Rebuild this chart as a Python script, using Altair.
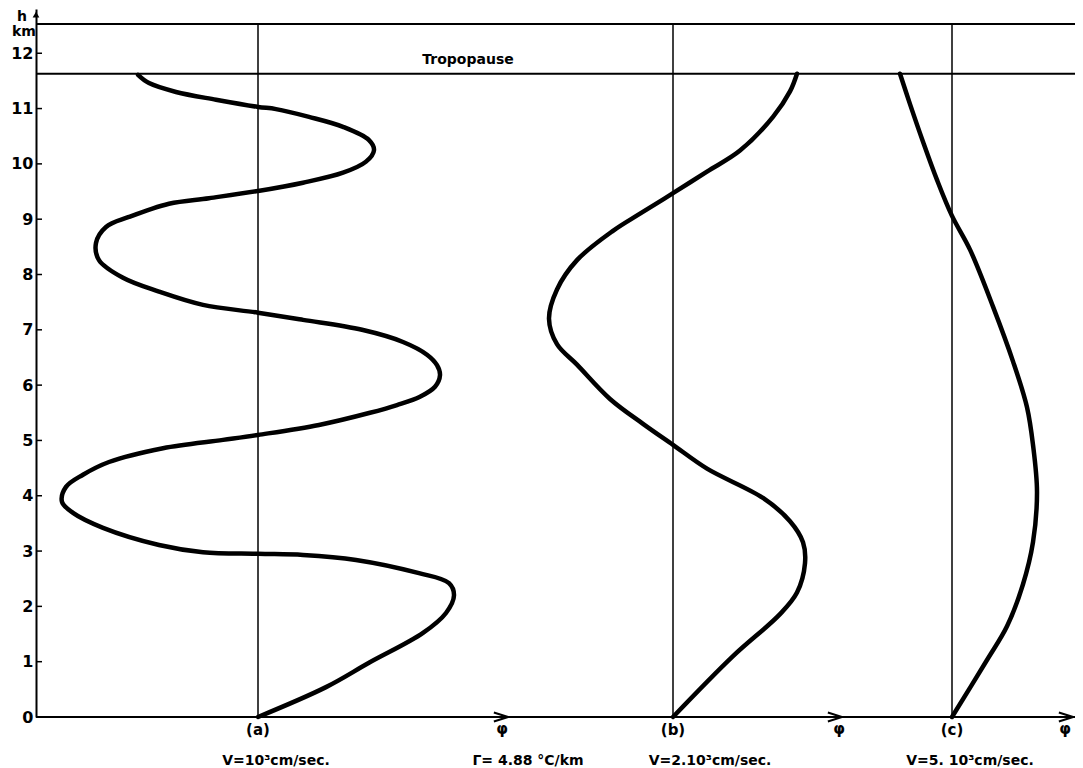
import altair as alt
import pandas as pd

# ---- data (h in km, phi = horizontal deviation from each baseline) ----
h_a = [0, 0.54, 0.98, 1.52, 1.88, 2.2, 2.42, 2.6, 2.84, 2.93, 2.95, 2.98, 3.11, 3.42, 3.69, 3.89,
       4.16, 4.38, 4.61, 4.86, 5.01, 5.10, 5.28, 5.50, 5.64, 5.79, 5.97, 6.18, 6.36, 6.55, 6.78,
       7.00, 7.18, 7.31, 7.45, 7.69, 7.94, 8.26, 8.57, 8.86, 9.04, 9.28, 9.38, 9.51, 9.66,
       9.84, 10.04, 10.25, 10.43, 10.67, 10.85, 10.99, 11.03, 11.16, 11.30, 11.46, 11.61]
phi_a = [0, 68, 111, 165, 188, 196, 191, 161, 98, 45, 0, -55, -99, -155, -185, -196,
         -192, -175, -149, -95, -35, 0, 61, 112, 139, 162, 177, 182, 179, 169, 145,
         104, 45, 0, -55, -99, -135, -159, -162, -152, -129, -89, -49, 0, 45,
         85, 108, 116, 111, 85, 51, 18, 0, -42, -82, -109, -120]

h_b = [0, 1.10, 1.86, 2.25, 2.78, 3.16, 3.54, 3.96, 4.49, 4.92, 5.30, 5.75, 6.37, 6.74, 7.20,
       7.73, 8.26, 8.79, 9.10, 9.47, 9.86, 10.24, 10.85, 11.31, 11.63]
phi_b = [0, 60, 107, 124, 132, 130, 117, 90, 34, 0, -30, -63, -96, -116, -124,
         -116, -96, -60, -33, 0, 34, 67, 100, 117, 124]

h_c = [0, 1.03, 1.64, 2.40, 3.16, 4.07, 4.92, 5.60, 6.43, 7.42, 8.45, 9.06, 9.71, 10.40, 11.08, 11.63]
phi_c = [0, 35, 55, 71, 81, 85, 81, 75, 61, 41, 18, 0, -15, -29, -42, -52]

y_ticks = list(range(0, 13))
tropopause_h = 11.63
top_h = 12.53

case_labels = ["(a)", "(b)", "(c)"]
velocity_labels = ["V=10³cm/sec.", "V=2.10³cm/sec.", "V=5. 10³cm/sec."]
gradient_label = "Γ= 4.88 °C/km"

# ---- layout constants ----
W, H = 1039, 708
YMAX = 12.8
base = {"a": 222, "b": 637, "c": 916}
arrow_x = [472, 806, 1037]
phi_label_x = [466, 803, 1029]

FONT = "DejaVu Sans"
yscale = alt.Scale(domain=[0, YMAX], nice=False, zero=False)
xscale = alt.Scale(domain=[0, W], nice=False, zero=False)
yaxis = alt.Axis(values=y_ticks, ticks=False, grid=False, title=None, domainColor="black",
                 domainWidth=2, labelFont=FONT, labelFontWeight="bold", labelFontSize=16,
                 labelColor="black", labelPadding=3, labelFlush=False)


def X(f):
    return alt.X(f, type="quantitative", scale=xscale, axis=None)


def Y(f):
    return alt.Y(f, type="quantitative", scale=yscale, axis=yaxis)


rows = []
for name, hs, ps in (("a", h_a, phi_a), ("b", h_b, phi_b), ("c", h_c, phi_c)):
    for i, (hh, pp) in enumerate(zip(hs, ps)):
        rows.append({"curve": name, "h": hh, "x": base[name] + pp, "o": i})
curves_df = pd.DataFrame(rows)

curves = alt.Chart(curves_df).mark_line(color="black", strokeWidth=4.5, interpolate="catmull-rom",
                                         strokeCap="round").encode(
    x=X("x"), y=Y("h"), detail="curve:N", order="o:Q")

vlines_df = pd.DataFrame({"x": list(base.values()), "y0": [0] * 3, "y1": [top_h] * 3})
vlines = alt.Chart(vlines_df).mark_rule(color="black", strokeWidth=1.5).encode(
    x=X("x"), y=Y("y0"), y2="y1")

bottom = alt.Chart(pd.DataFrame({"h": [0]})).mark_rule(color="black", strokeWidth=2).encode(
    y=Y("h"), x=alt.value(0), x2=alt.value(W))
trop = alt.Chart(pd.DataFrame({"h": [tropopause_h]})).mark_rule(color="black", strokeWidth=2).encode(
    y=Y("h"), x=alt.value(0), x2=alt.value(W + 8))
top = alt.Chart(pd.DataFrame({"h": [top_h]})).mark_rule(color="black", strokeWidth=2).encode(
    y=Y("h"), x=alt.value(0), x2=alt.value(W + 8))

ticks = alt.Chart(pd.DataFrame({"h": y_ticks[1:]})).mark_rule(color="black", strokeWidth=1.5).encode(
    y=Y("h"), x=alt.value(0), x2=alt.value(6))

arrows = alt.Chart(pd.DataFrame({"x": arrow_x, "h": [0] * 3})).mark_point(
    shape="M-1,-0.32L0,0L-1,0.32", size=800, filled=False, color="black", strokeWidth=2, opacity=1).encode(
    x=X("x"), y=Y("h"))

yarrow = alt.Chart(pd.DataFrame({"x": [0], "h": [12.70]})).mark_point(
    shape="triangle-up", size=45, filled=True, color="black", opacity=1).encode(x=X("x"), y=Y("h"))

txt_rows = []
for lab, k in zip(case_labels, ["a", "b", "c"]):
    txt_rows.append({"x": base[k], "h": -0.24, "t": lab, "s": 15})
txt_rows.append({"x": 240, "h": -0.80, "t": velocity_labels[0], "s": 14})
txt_rows.append({"x": 492, "h": -0.80, "t": gradient_label, "s": 14})
txt_rows.append({"x": 674, "h": -0.80, "t": velocity_labels[1], "s": 14})
txt_rows.append({"x": 934, "h": -0.80, "t": velocity_labels[2], "s": 14})
for px in phi_label_x:
    txt_rows.append({"x": px, "h": -0.22, "t": "φ", "s": 15})
txt_rows.append({"x": 432, "h": 11.87, "t": "Tropopause", "s": 14})
txt_rows.append({"x": -14, "h": 12.66, "t": "h", "s": 14})
txt_rows.append({"x": -12, "h": 12.38, "t": "km", "s": 14})
texts = alt.Chart(pd.DataFrame(txt_rows)).mark_text(
    font=FONT, fontWeight="bold", color="black", align="center", baseline="middle").encode(
    x=X("x"), y=Y("h"), text="t:N", size=alt.Size("s:Q", scale=None, legend=None))

chart = alt.layer(bottom, trop, top, ticks, vlines, curves, arrows, yarrow, texts).properties(
    width=W, height=H,
    autosize=alt.AutoSizeParams(type="none"),
    padding={"left": 28, "top": 1, "right": 0, "bottom": 50},
    background="white",
).configure_view(stroke=None)

chart.save("out.html", embed_options={"renderer": "svg", "actions": False})
